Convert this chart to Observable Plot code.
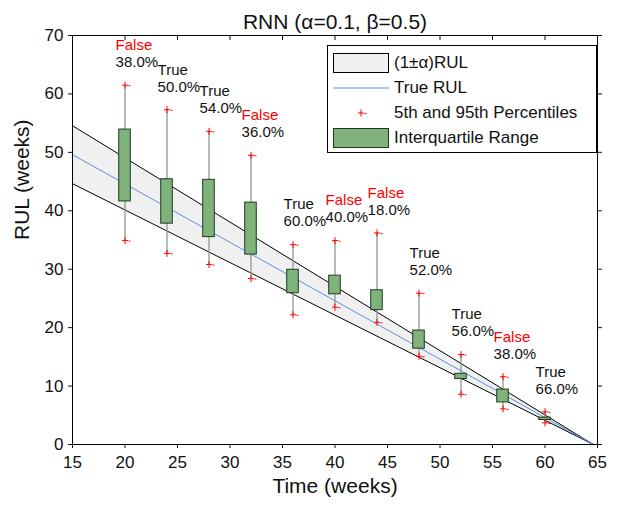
<!DOCTYPE html>
<html>
<head>
<meta charset="utf-8">
<script src="https://cdn.jsdelivr.net/npm/d3@7"></script>
<script src="https://cdn.jsdelivr.net/npm/@observablehq/plot@0.6"></script>
<style>
  html, body { margin: 0; padding: 0; background: #fff; }
  #wrap { position: relative; width: 623px; height: 505px; font-family: "Liberation Sans", Arial, sans-serif; }
  #legend { position: absolute; left: 327px; top: 45px; width: 270px; height: 108px; border: 1px solid #000; background: #fff; box-sizing: border-box; }
  .row { position: absolute; left: 0; height: 22px; display: flex; align-items: center; font-size: 17px; color: #111; }
  .sw { width: 56px; height: 22px; margin-left: 5px; margin-right: 5px; }
</style>
</head>
<body>
<div id="wrap"></div>
<script>
// ---- data ----
const title = "RNN (\u03b1=0.1, \u03b2=0.5)";
const alpha = 0.1;
const timeAxisTicks = [15, 20, 25, 30, 35, 40, 45, 50, 55, 60, 65];
const rulAxisTicks = [0, 10, 20, 30, 40, 50, 60, 70];
const rulTimes = [15, 64.6];
const trueRul = [49.6, 0];
const times = [20, 24, 28, 32, 36, 40, 44, 48, 52, 56, 60];
const p95 = [61.5, 57.3, 53.6, 49.5, 34.2, 34.9, 36.2, 25.9, 15.4, 11.6, 5.6];
const q3  = [53.9, 45.4, 45.3, 41.4, 29.9, 28.9, 26.4, 19.5, 12.1, 9.4, 4.6];
const q1  = [41.6, 37.8, 35.5, 32.5, 25.9, 25.7, 23.0, 16.4, 11.2, 7.2, 4.2];
const p5  = [34.9, 32.7, 30.8, 28.4, 22.2, 23.5, 20.9, 15.1, 8.6, 6.1, 3.7];
const verdicts = ["False", "True", "True", "False", "True", "False", "False", "True", "True", "False", "True"];
const coverage = ["38.0%", "50.0%", "54.0%", "36.0%", "60.0%", "40.0%", "18.0%", "52.0%", "56.0%", "38.0%", "66.0%"];

// ---- tables ----
const rul = rulTimes.map((t, i) => ({t, rul: trueRul[i], lo: (1 - alpha) * trueRul[i], hi: (1 + alpha) * trueRul[i]}));
const boxes = times.map((t, i) => ({t, p5: p5[i], q1: q1[i], q3: q3[i], p95: p95[i], verdict: verdicts[i], cov: coverage[i]}));
const pcts = boxes.flatMap(d => [{t: d.t, v: d.p5}, {t: d.t, v: d.p95}]);
const halfW = 0.55;

// percentile marker: a plus with a short dash to its right
const plusDash = {
  draw(ctx) {
    ctx.moveTo(-3, 0); ctx.lineTo(3, 0);
    ctx.moveTo(0, -3.5); ctx.lineTo(0, 3.5);
    ctx.moveTo(3.5, 0.5); ctx.lineTo(5.5, 0.5);
  }
};

const font = "Liberation Sans, Arial, sans-serif";
const chart = Plot.plot({
  width: 623,
  height: 505,
  marginLeft: 72,
  marginRight: 26,
  marginTop: 35,
  marginBottom: 61,
  style: {fontFamily: font, fontSize: "17px", color: "#111", background: "#fff"},
  x: {domain: [15, 65]},
  y: {domain: [0, 70]},
  marks: [
    Plot.areaY(rul, {x: "t", y1: "lo", y2: "hi", fill: "#f0f0f0"}),
    Plot.lineY(rul, {x: "t", y: "hi", stroke: "#000", strokeWidth: 1}),
    Plot.lineY(rul, {x: "t", y: "lo", stroke: "#000", strokeWidth: 1}),
    Plot.lineY(rul, {x: "t", y: "rul", stroke: "#5b8ee0", strokeWidth: 1}),
    Plot.ruleX(boxes, {x: "t", y1: "p5", y2: "p95", stroke: "#8a9c8a", strokeWidth: 1.3}),
    Plot.rect(boxes, {x1: d => d.t - halfW, x2: d => d.t + halfW, y1: "q1", y2: "q3", fill: "#80b27c", stroke: "#1e3a1e", strokeWidth: 1}),
    Plot.dot(pcts, {x: "t", y: "v", symbol: plusDash, r: 3, stroke: "#ff0000", strokeWidth: 1}),
    Plot.text(boxes, {x: d => d.t - 0.9, y: "p95", text: "verdict", dy: -40, textAnchor: "start", fontSize: 15, fill: d => d.verdict === "False" ? "#ff0000" : "#111"}),
    Plot.text(boxes, {x: d => d.t - 0.9, y: "p95", text: "cov", dy: -23, textAnchor: "start", fontSize: 15, fill: "#111"}),
    Plot.frame({stroke: "#000", strokeWidth: 1}),
    Plot.axisX({ticks: timeAxisTicks, tickSize: 4, tickPadding: 7, fontSize: 17, label: null}),
    Plot.axisX({anchor: "top", ticks: timeAxisTicks, tickSize: -4, tickFormat: () => "", label: null}),
    Plot.axisY({ticks: rulAxisTicks, tickSize: 4, tickPadding: 5, fontSize: 17, label: null}),
    Plot.axisY({anchor: "right", ticks: rulAxisTicks, tickSize: 4, tickFormat: () => "", label: null}),
    Plot.text([title], {frameAnchor: "top", dy: -21, fontSize: 21, fill: "#111"}),
    Plot.text(["Time (weeks)"], {frameAnchor: "bottom", dy: 48, fontSize: 21, fill: "#111"}),
    Plot.text(["RUL (weeks)"], {frameAnchor: "left", dx: -50, rotate: -90, fontSize: 21, fill: "#111"})
  ]
});
const wrap = document.getElementById("wrap");
wrap.appendChild(chart);

// ---- legend ----
const legendItems = [
  {label: "(1\u00b1\u03b1)RUL", kind: "band"},
  {label: "True RUL", kind: "line"},
  {label: "5th and 95th Percentiles", kind: "plus"},
  {label: "Interquartile Range", kind: "box"}
];
const lg = document.createElement("div");
lg.id = "legend";
legendItems.forEach((it, i) => {
  const row = document.createElement("div");
  row.className = "row";
  row.style.top = (6 + i * 25) + "px";
  const sw = document.createElement("div");
  sw.className = "sw";
  let svg = "";
  if (it.kind === "band") svg = '<svg width="56" height="22"><rect x="0.5" y="1.5" width="55" height="19" fill="#f0f0f0" stroke="#000"/></svg>';
  if (it.kind === "line") svg = '<svg width="56" height="22"><line x1="0" x2="56" y1="11" y2="11" stroke="#5b8ee0"/></svg>';
  if (it.kind === "plus") svg = '<svg width="56" height="22"><path d="M25,11h6M28,7.5v7M31.5,11.5h2" stroke="#ff0000" fill="none"/></svg>';
  if (it.kind === "box") svg = '<svg width="56" height="22"><rect x="0.5" y="1.5" width="55" height="19" fill="#80b27c" stroke="#1e3a1e"/></svg>';
  sw.innerHTML = svg;
  const tx = document.createElement("span");
  tx.textContent = it.label;
  row.appendChild(sw);
  row.appendChild(tx);
  lg.appendChild(row);
});
wrap.appendChild(lg);
</script>
</body>
</html>
